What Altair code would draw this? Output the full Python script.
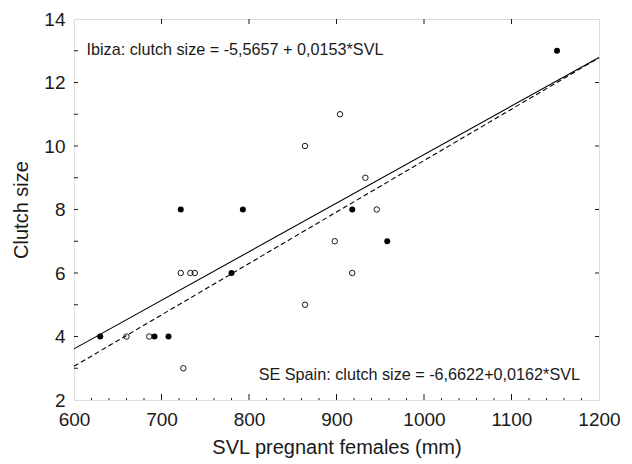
import altair as alt
import pandas as pd

# Ibiza (filled points)
ibiza_svl = [630, 692, 708, 722, 780, 793, 918, 958, 1152]
ibiza_clutch = [4, 4, 4, 8, 6, 8, 8, 7, 13]

# SE Spain (open points)
spain_svl = [660, 686, 722, 725, 733, 738, 864, 904, 864, 898, 918, 933, 946]
spain_clutch = [4, 4, 6, 3, 6, 6, 10, 11, 5, 7, 6, 9, 8]

# regression line end points
line_x = [600, 1200]
ibiza_line = [3.61, 12.79]
spain_line = [3.06, 12.78]

x_labels = [600, 700, 800, 900, 1000, 1100, 1200]
y_labels = [2, 4, 6, 8, 10, 12, 14]
x_major_ticks = [700, 800, 900, 1000, 1100]
x_minor_ticks = [v for v in range(620, 1200, 20) if v % 100 != 0]
y_left_ticks = [3, 4, 5, 6, 7, 8, 9, 10, 11, 12, 13]
y_right_ticks = [4, 6, 8, 10, 12]

W, H = 525, 381
FONT = "Liberation Sans"
INK = "#1a1a1a"

xs = alt.Scale(domain=[600, 1200], nice=False, zero=False)
ys = alt.Scale(domain=[2, 14], nice=False, zero=False)

xaxis = alt.Axis(values=x_labels, ticks=False, domain=False, grid=False, format="d",
                 labelFlush=False, labelOverlap=False,
                 labelFontSize=19, labelPadding=10, labelFont=FONT, labelColor=INK,
                 title="SVL pregnant females (mm)", titleFontSize=20, titleFont=FONT,
                 titleFontWeight="normal", titleColor=INK, titlePadding=8)
yaxis = alt.Axis(values=y_labels, ticks=False, domain=False, grid=False, format="d",
                 labelFlush=False, labelOverlap=False,
                 labelFontSize=19, labelPadding=9, labelFont=FONT, labelColor=INK,
                 title="Clutch size", titleFontSize=20, titleFont=FONT,
                 titleFontWeight="normal", titleColor=INK, titlePadding=12)

df_i = pd.DataFrame({"svl": ibiza_svl, "clutch": ibiza_clutch})
df_s = pd.DataFrame({"svl": spain_svl, "clutch": spain_clutch})
df_li = pd.DataFrame({"svl": line_x, "clutch": ibiza_line})
df_ls = pd.DataFrame({"svl": line_x, "clutch": spain_line})

bx = alt.X("svl:Q", scale=xs, axis=xaxis)
by = alt.Y("clutch:Q", scale=ys, axis=yaxis)

line_i = alt.Chart(df_li).mark_line(color="black", strokeWidth=1.1).encode(x=bx, y=by)
line_s = alt.Chart(df_ls).mark_line(color="black", strokeWidth=1.1, strokeDash=[5, 3]).encode(x=bx, y=by)

pts_s = alt.Chart(df_s).mark_point(shape="circle", filled=False, color="black",
                                   strokeWidth=0.9, size=30, opacity=1).encode(x=bx, y=by)
pts_i = alt.Chart(df_i).mark_point(shape="circle", filled=True, color="black",
                                   size=36, opacity=1).encode(x=bx, y=by)

# inward ticks
t_xmaj = pd.DataFrame({"svl": x_major_ticks})
t_xmin = pd.DataFrame({"svl": x_minor_ticks})
t_yl = pd.DataFrame({"clutch": y_left_ticks})
t_yr = pd.DataFrame({"clutch": y_right_ticks})

tick_style = dict(color=INK, strokeWidth=1)
ticks_bottom = alt.Chart(t_xmaj).mark_rule(**tick_style).encode(x=bx, y=alt.value(H), y2=alt.value(H - 6))
ticks_bottom_minor = alt.Chart(t_xmin).mark_rule(**tick_style).encode(x=bx, y=alt.value(H), y2=alt.value(H - 2))
ticks_top = alt.Chart(t_xmaj).mark_rule(**tick_style).encode(x=bx, y=alt.value(0), y2=alt.value(5))
ticks_left = alt.Chart(t_yl).mark_rule(**tick_style).encode(y=by, x=alt.value(0), x2=alt.value(4))
ticks_right = alt.Chart(t_yr).mark_rule(**tick_style).encode(y=by, x=alt.value(W), x2=alt.value(W - 4))

txt_i = alt.Chart(pd.DataFrame({"t": ["Ibiza: clutch size = -5,5657 + 0,0153*SVL"]})).mark_text(
    align="left", baseline="middle", font=FONT, fontSize=16.2, color=INK
).encode(text="t:N", x=alt.value(12.5), y=alt.value(31))
txt_s = alt.Chart(pd.DataFrame({"t": ["SE Spain: clutch size = -6,6622+0,0162*SVL"]})).mark_text(
    align="right", baseline="middle", font=FONT, fontSize=16.2, color=INK
).encode(text="t:N", x=alt.value(506), y=alt.value(356))

chart = alt.layer(
    line_i, line_s, pts_s, pts_i,
    ticks_bottom, ticks_bottom_minor, ticks_top, ticks_left, ticks_right,
    txt_i, txt_s,
).properties(
    width=W, height=H,
    padding={"left": 66, "top": 11, "right": 24, "bottom": 60},
    autosize="none",
).configure_view(stroke=INK, strokeWidth=1.2).configure(background="white")

chart.save("out.html", embed_options={"renderer": "svg", "actions": False})
